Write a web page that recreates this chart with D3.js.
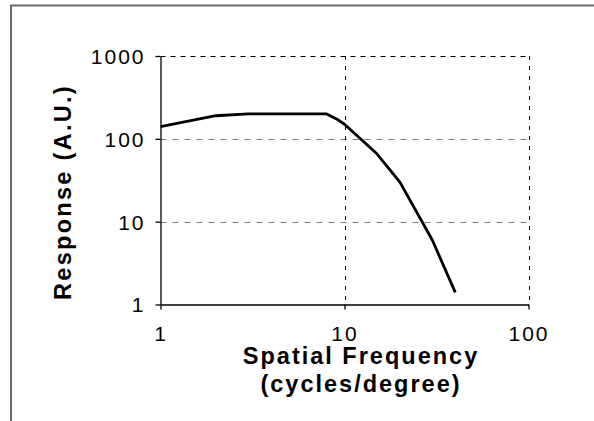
<!DOCTYPE html>
<html>
<head>
<meta charset="utf-8">
<script src="https://cdn.jsdelivr.net/npm/d3@7/dist/d3.min.js"></script>
<style>
  html, body { margin: 0; padding: 0; background: #fff; }
  svg { display: block; }
  text { font-family: "Liberation Sans", Arial, Helvetica, sans-serif; fill: #000; }
</style>
</head>
<body>
<svg id="chart" width="594" height="421"></svg>
<script>
// Spatial frequency (cycles/degree) and response (A.U.)
const frequency = [1, 2, 3, 8, 9, 10, 15, 20, 30, 40];
const response  = [140, 190, 200, 200, 175, 150, 66, 30, 6, 1.4];

const xTicks = [1, 10, 100];
const yTicks = [1, 10, 100, 1000];

const xTitle = ["Spatial Frequency", "(cycles/degree)"];
const yTitle = "Response (A.U.)";

const svg = d3.select("#chart");

// outer frame
svg.append("rect")
  .attr("x", 11).attr("y", 5.5)
  .attr("width", 620).attr("height", 450)
  .attr("fill", "none")
  .attr("stroke", "#6a6a6a")
  .attr("stroke-width", 2);

const plot = { left: 160.5, right: 528.5, top: 56, bottom: 304.5 };

const x = d3.scaleLog().domain([1, 100]).range([plot.left, plot.right]);
const y = d3.scaleLog().domain([1, 1000]).range([plot.bottom, plot.top]);

const g = svg.append("g");

// horizontal gridlines
g.selectAll("line.hgrid")
  .data(yTicks.filter(d => d > 1))
  .join("line")
  .attr("class", "hgrid")
  .attr("x1", plot.left).attr("x2", plot.right)
  .attr("y1", d => Math.round(y(d)) + 0.5).attr("y2", d => Math.round(y(d)) + 0.5)
  .attr("stroke", d => d === 1000 ? "#000" : "#808080")
  .attr("stroke-width", 1)
  .attr("stroke-dasharray", d => d === 1000 ? "5,5" : "6,6");

// vertical gridlines
g.selectAll("line.vgrid")
  .data(xTicks.filter(d => d > 1))
  .join("line")
  .attr("class", "vgrid")
  .attr("y1", plot.top).attr("y2", plot.bottom)
  .attr("x1", d => Math.round(x(d)) + 0.5).attr("x2", d => Math.round(x(d)) + 0.5)
  .attr("stroke", "#000")
  .attr("stroke-width", 1)
  .attr("stroke-dasharray", "4,6");

// axes
const xAxis = d3.axisBottom(x).tickValues(xTicks).tickFormat(d3.format("d"))
  .tickSizeInner(5).tickSizeOuter(0).tickPadding(16);
const yAxis = d3.axisLeft(y).tickValues(yTicks).tickFormat(d3.format("d"))
  .tickSizeInner(5).tickSizeOuter(0).tickPadding(10);

const gx = g.append("g")
  .attr("transform", `translate(0,${plot.bottom})`)
  .call(xAxis);
const gy = g.append("g")
  .attr("transform", `translate(${plot.left},0)`)
  .call(yAxis);

[gx, gy].forEach(a => {
  a.select(".domain").attr("stroke", "#000").attr("stroke-width", 1.3);
  a.selectAll(".tick line").attr("stroke", "#000").attr("stroke-width", 1.3);
  a.selectAll(".tick text")
    .attr("font-size", 21)
    .attr("letter-spacing", "2px")
    .attr("fill", "#000");
});
gx.selectAll(".tick text").attr("dy", "0.72em");
gy.selectAll(".tick text").attr("dy", "0.35em");

// response curve
const line = d3.line()
  .x((d, i) => x(frequency[i]))
  .y(d => y(d));

g.append("path")
  .datum(response)
  .attr("d", line)
  .attr("fill", "none")
  .attr("stroke", "#000")
  .attr("stroke-width", 2.8)
  .attr("stroke-linejoin", "round");

// axis titles
svg.append("text")
  .attr("text-anchor", "middle")
  .attr("font-size", 23.5)
  .attr("font-weight", "bold")
  .attr("letter-spacing", "2px")
  .selectAll("tspan")
  .data(xTitle)
  .join("tspan")
  .attr("x", 361)
  .attr("y", (d, i) => 364 + i * 28)
  .text(d => d);

svg.append("text")
  .attr("transform", "translate(71,192) rotate(-90)")
  .attr("text-anchor", "middle")
  .attr("font-size", 23.5)
  .attr("font-weight", "bold")
  .attr("letter-spacing", "2.3px")
  .text(yTitle);
</script>
</body>
</html>
